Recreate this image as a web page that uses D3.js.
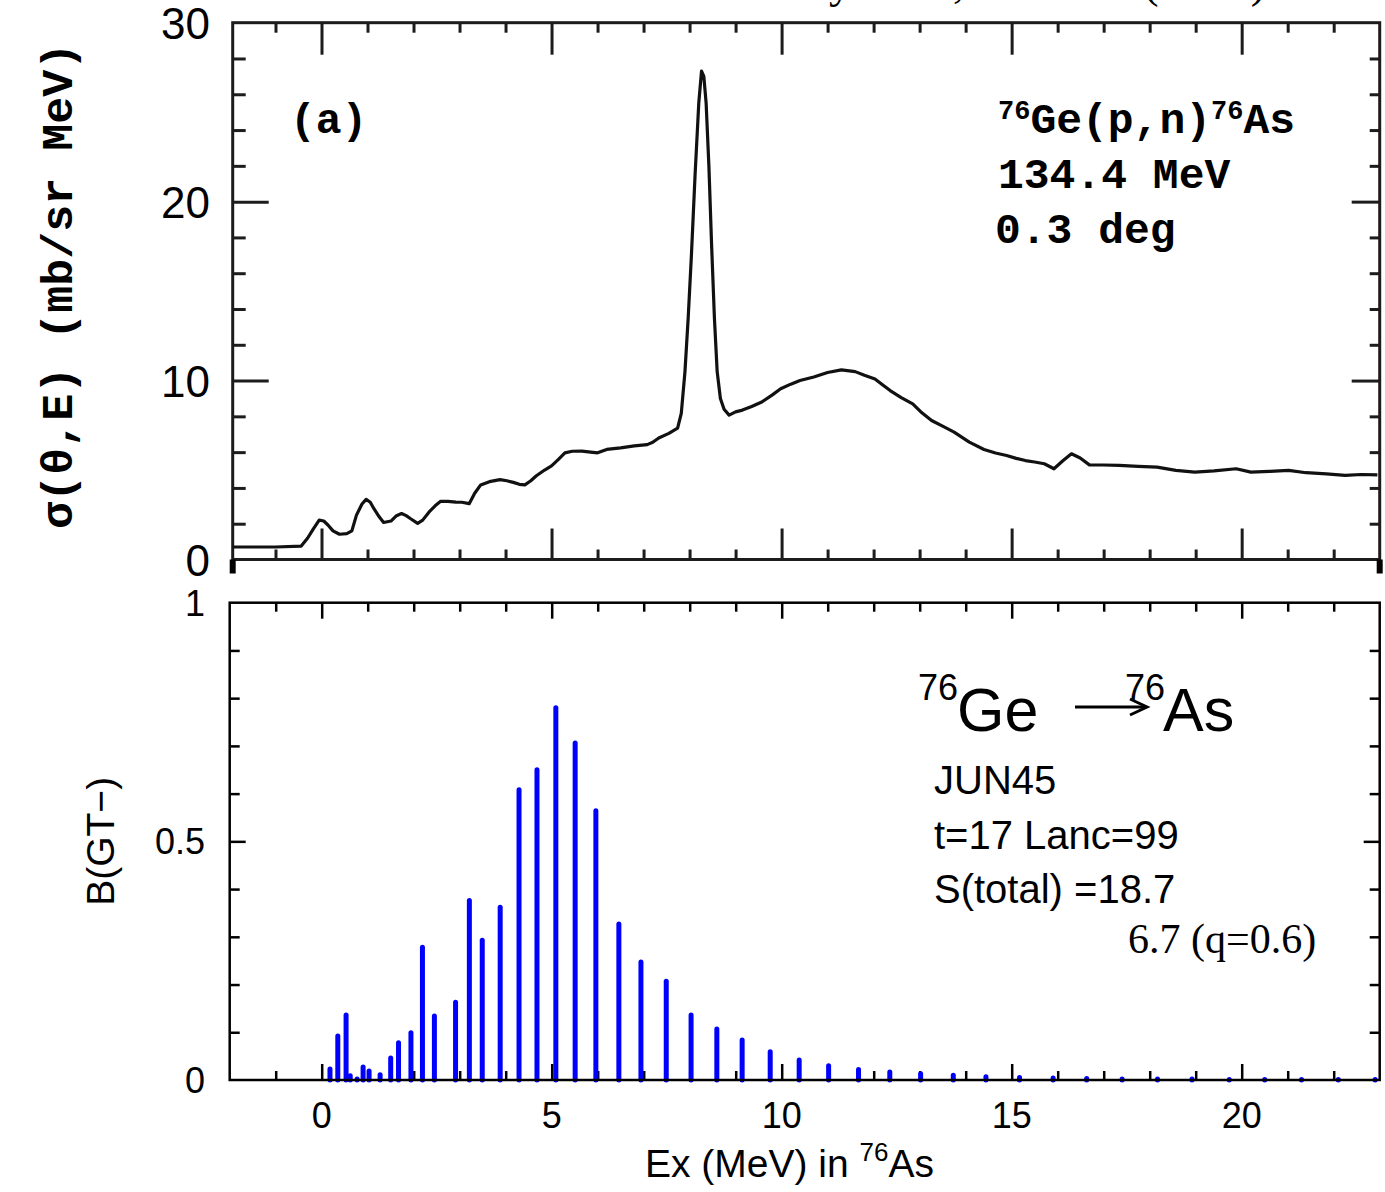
<!DOCTYPE html>
<html>
<head>
<meta charset="utf-8">
<script src="https://cdn.jsdelivr.net/npm/d3@7"></script>
<style>
  html, body { margin: 0; padding: 0; background: #fff; }
  svg { display: block; }
</style>
</head>
<body>
<script>
// ---- (a) measured 76Ge(p,n)76As spectrum: Ex (MeV) and cross section (mb/sr MeV)
const specE = [-1.93,-1.5,-1.0,-0.44,-0.3,-0.18,-0.05,0.05,0.14,0.25,0.39,0.55,0.66,0.76,0.88,0.97,1.06,1.14,1.25,1.35,
  1.51,1.63,1.74,1.84,1.93,2.09,2.2,2.34,2.47,2.59,2.75,2.92,3.05,3.21,3.33,3.46,3.65,3.88,4.03,4.17,
  4.3,4.42,4.55,4.67,4.85,5.0,5.15,5.29,5.45,5.66,5.85,6.0,6.2,6.5,6.8,7.08,7.2,7.33,7.55,7.74,
  7.82,7.9,7.97,8.04,8.12,8.2,8.26,8.31,8.36,8.42,8.48,8.54,8.6,8.67,8.75,8.86,9.0,9.15,9.35,9.57,
  9.8,9.98,10.2,10.4,10.7,11.0,11.3,11.6,11.8,12.03,12.2,12.36,12.6,12.85,13.05,13.26,13.5,13.75,14.08,14.4,
  14.65,14.89,15.1,15.3,15.5,15.71,15.92,16.12,16.3,16.49,16.69,17.0,17.34,17.75,18.16,18.57,18.98,19.4,19.88,20.2,
  20.6,21.02,21.4,21.84,22.25,22.6,22.95];
const specS = [0.7,0.7,0.7,0.75,1.2,1.7,2.2,2.15,1.93,1.6,1.41,1.45,1.6,2.48,3.1,3.36,3.2,2.84,2.4,2.07,
  2.15,2.45,2.57,2.45,2.29,2.02,2.2,2.66,3.0,3.25,3.25,3.21,3.2,3.12,3.7,4.17,4.35,4.46,4.4,4.31,
  4.2,4.17,4.4,4.68,5.0,5.23,5.6,5.96,6.05,6.06,6.0,5.96,6.15,6.24,6.35,6.42,6.55,6.79,7.05,7.34,
  8.17,10.5,13.5,17.0,21.5,25.5,27.3,27.0,25.5,22.0,17.5,13.5,10.5,9.0,8.4,8.07,8.25,8.35,8.55,8.8,
  9.2,9.54,9.8,10.0,10.2,10.45,10.6,10.5,10.3,10.09,9.75,9.44,9.05,8.7,8.2,7.77,7.45,7.12,6.56,6.15,
  5.95,5.81,5.65,5.53,5.45,5.35,5.07,5.53,5.91,5.67,5.29,5.28,5.26,5.2,5.16,4.98,4.88,4.95,5.07,4.88,
  4.92,4.98,4.85,4.79,4.7,4.75,4.73];

// ---- (b) shell-model B(GT-) strengths: Ex (MeV) and B(GT-)
const gtE = [0.18,0.35,0.53,0.62,0.77,0.90,1.03,1.27,1.50,1.67,1.94,2.19,2.45,2.91,3.21,3.49,3.88,4.29,4.68,5.09,
  5.51,5.96,6.46,6.94,7.49,8.03,8.59,9.14,9.75,10.38,11.02,11.67,12.35,13.02,13.73,14.44,15.17,15.90,16.63,17.40,
  18.17,18.92,19.73,20.50,21.30,22.10,22.90];
const gtB = [0.023,0.092,0.136,0.009,0.002,0.027,0.019,0.011,0.046,0.078,0.099,0.278,0.134,0.163,0.376,0.293,0.362,0.608,0.650,0.780,
  0.706,0.564,0.327,0.247,0.207,0.136,0.107,0.084,0.059,0.042,0.030,0.022,0.017,0.013,0.010,0.007,0.005,0.004,0.003,0.002,
  0.002,0.002,0.001,0.001,0.001,0.001,0.001];

// ---- tick labels
const topYTicks = [0, 10, 20, 30];
const botYTicks = [0, 0.5, 1];
const botYLabels = ["0", "0.5", "1"];
const botXTicks = [0, 5, 10, 15, 20];
const botXLabels = ["0", "5", "10", "15", "20"];

const W = 1385, H = 1192;
const svg = d3.select("body").append("svg")
  .attr("width", W).attr("height", H)
  .attr("viewBox", `0 0 ${W} ${H}`);

const SANS = "'Liberation Sans', Arial, Helvetica, sans-serif";
const MONO = "'Liberation Mono', 'Courier New', monospace";
const SERIF = "'Liberation Serif', 'Times New Roman', serif";

// ---- citation line, running off the top edge
svg.append("text")
  .attr("x", 1266).attr("y", -3)
  .attr("text-anchor", "end")
  .attr("font-family", SERIF).attr("font-size", 46)
  .text("R. Madey et al., PR C 40 (1989)");

// ================= panel (a) =================
const xT = d3.scaleLinear().domain([-1.93, 23]).range([232.7, 1379.7]);
const yT = d3.scaleLinear().domain([0, 30]).range([559.5, 22.7]);
const gT = svg.append("g");
const frameT = "#1c1c1c";

// inward ticks on all four sides
function ticksT(axisGen, transform, values, size) {
  gT.append("g").attr("transform", transform)
    .call(axisGen.tickValues(values).tickSize(size).tickFormat(""))
    .call(g => g.select(".domain").remove())
    .call(g => g.selectAll(".tick line").attr("stroke", frameT).attr("stroke-width", 3));
}
const xMinor = d3.range(-1, 23, 1).filter(v => v % 5 !== 0);
const xMajor = d3.range(0, 23, 5);
const yMinorT = d3.range(2, 30, 2).filter(v => v % 10 !== 0);
const yMajorT = [10, 20];
ticksT(d3.axisBottom(xT), `translate(0,${yT(0)})`, xMinor, -10);
ticksT(d3.axisBottom(xT), `translate(0,${yT(0)})`, xMajor, -31);
ticksT(d3.axisTop(xT), `translate(0,${yT(30)})`, xMinor, -10);
ticksT(d3.axisTop(xT), `translate(0,${yT(30)})`, xMajor, -32);
ticksT(d3.axisLeft(yT), `translate(${xT.range()[0]},0)`, yMinorT, -13);
ticksT(d3.axisLeft(yT), `translate(${xT.range()[0]},0)`, yMajorT, -36);
ticksT(d3.axisRight(yT), `translate(${xT.range()[1]},0)`, yMinorT, -10);
ticksT(d3.axisRight(yT), `translate(${xT.range()[1]},0)`, yMajorT, -28);

gT.append("rect")
  .attr("x", xT.range()[0]).attr("y", yT(30))
  .attr("width", xT.range()[1] - xT.range()[0]).attr("height", yT(0) - yT(30))
  .attr("fill", "none").attr("stroke", frameT).attr("stroke-width", 3);

// heavy end caps below the lower corners
gT.selectAll("line.cap").data(xT.range()).join("line")
  .attr("class", "cap")
  .attr("x1", d => d).attr("x2", d => d)
  .attr("y1", yT(0)).attr("y2", yT(0) + 14)
  .attr("stroke", "#000").attr("stroke-width", 6);

// y tick labels
gT.selectAll("text.ylab").data(topYTicks).join("text")
  .attr("class", "ylab")
  .attr("x", 210).attr("y", d => yT(d) + 16)
  .attr("text-anchor", "end")
  .attr("font-family", SANS).attr("font-size", 44)
  .text(d => d);

// spectrum
const spec = specE.map((e, i) => [e, specS[i]]);
gT.append("path")
  .datum(spec)
  .attr("fill", "none").attr("stroke", "#111").attr("stroke-width", 3.2)
  .attr("stroke-linejoin", "round")
  .attr("d", d3.line().x(d => xT(d[0])).y(d => yT(d[1])));

// y title
gT.append("text")
  .attr("transform", `translate(72,${yT(15.3)}) rotate(-90)`)
  .attr("text-anchor", "middle")
  .attr("font-family", MONO).attr("font-weight", "bold").attr("font-size", 45)
  .text("σ(θ,E) (mb/sr MeV)");

// annotations
const monoText = (x, y) => gT.append("text")
  .attr("x", x).attr("y", y)
  .attr("font-family", MONO).attr("font-weight", "bold").attr("font-size", 43);
monoText(290, 133).text("(a)");
const r = monoText(998, 133);
r.append("tspan").attr("font-size", 27).attr("dy", -14).text("76");
r.append("tspan").attr("dy", 14).text("Ge(p,n)");
r.append("tspan").attr("font-size", 27).attr("dy", -14).text("76");
r.append("tspan").attr("dy", 14).text("As");
monoText(998, 188).text("134.4 MeV");
monoText(995, 243).text("0.3 deg");

// ================= panel (b) =================
const xB = d3.scaleLinear().domain([-2, 23]).range([229.7, 1379.7]);
const yB = d3.scaleLinear().domain([0, 1]).range([1080, 602.7]);
const gB = svg.append("g");

function ticksB(axisGen, transform, values, size) {
  gB.append("g").attr("transform", transform)
    .call(axisGen.tickValues(values).tickSize(size).tickFormat(""))
    .call(g => g.select(".domain").remove())
    .call(g => g.selectAll(".tick line").attr("stroke", "#000").attr("stroke-width", 2.5));
}
const xMinorB = d3.range(-1, 23, 1).filter(v => v % 5 !== 0);
const xMajorB = d3.range(0, 23, 5);
const yMinorB = d3.range(1, 10).filter(v => v !== 5).map(v => v / 10);
ticksB(d3.axisBottom(xB), `translate(0,${yB(0)})`, xMinorB, -9);
ticksB(d3.axisBottom(xB), `translate(0,${yB(0)})`, xMajorB, -16);
ticksB(d3.axisTop(xB), `translate(0,${yB(1)})`, xMinorB, -9);
ticksB(d3.axisTop(xB), `translate(0,${yB(1)})`, xMajorB, -16);
ticksB(d3.axisLeft(yB), `translate(${xB.range()[0]},0)`, yMinorB, -10);
ticksB(d3.axisLeft(yB), `translate(${xB.range()[0]},0)`, [0.5], -16);
ticksB(d3.axisRight(yB), `translate(${xB.range()[1]},0)`, yMinorB, -10);
ticksB(d3.axisRight(yB), `translate(${xB.range()[1]},0)`, [0.5], -16);

// strength sticks
gB.selectAll("line.gt").data(gtE.map((e, i) => [e, gtB[i]])).join("line")
  .attr("class", "gt")
  .attr("x1", d => xB(d[0])).attr("x2", d => xB(d[0]))
  .attr("y1", yB(0)).attr("y2", d => yB(d[1]))
  .attr("stroke", "#0000ff").attr("stroke-width", 5).attr("stroke-linecap", "round");

gB.append("rect")
  .attr("x", xB.range()[0]).attr("y", yB(1))
  .attr("width", xB.range()[1] - xB.range()[0]).attr("height", yB(0) - yB(1))
  .attr("fill", "none").attr("stroke", "#000").attr("stroke-width", 2.5);

// tick labels
gB.selectAll("text.ylab").data(botYTicks).join("text")
  .attr("class", "ylab")
  .attr("x", 205).attr("y", d => yB(d) + 13)
  .attr("text-anchor", "end")
  .attr("font-family", SANS).attr("font-size", 36)
  .text((d, i) => botYLabels[i]);
gB.selectAll("text.xlab").data(botXTicks).join("text")
  .attr("class", "xlab")
  .attr("x", d => xB(d)).attr("y", 1128)
  .attr("text-anchor", "middle")
  .attr("font-family", SANS).attr("font-size", 36)
  .text((d, i) => botXLabels[i]);

// axis titles
const xt = gB.append("text")
  .attr("x", 645).attr("y", 1177)
  .attr("font-family", SANS).attr("font-size", 39);
xt.append("tspan").text("Ex (MeV) in ");
xt.append("tspan").attr("font-size", 26).attr("dy", -16).text("76");
xt.append("tspan").attr("dy", 16).text("As");

gB.append("text")
  .attr("transform", `translate(114,${yB(0.5)}) rotate(-90)`)
  .attr("text-anchor", "middle")
  .attr("font-family", SANS).attr("font-size", 39)
  .text("B(GT\u2212)");

// reaction label with arrow
const sansText = (x, y, size) => gB.append("text")
  .attr("x", x).attr("y", y)
  .attr("font-family", SANS).attr("font-size", size);
sansText(918, 700, 36).text("76");
sansText(957, 731, 61).text("Ge");
sansText(1125, 700, 36).text("76");
sansText(1163, 731, 61).text("As");
gB.append("line")
  .attr("x1", 1075).attr("x2", 1146).attr("y1", 707).attr("y2", 707)
  .attr("stroke", "#000").attr("stroke-width", 3);
gB.append("path")
  .attr("d", "M1130,699 L1147,707 L1130,715")
  .attr("fill", "none").attr("stroke", "#000").attr("stroke-width", 3);

sansText(934, 794, 40).text("JUN45");
sansText(934, 849, 40).text("t=17 Lanc=99");
sansText(934, 903, 40).text("S(total) =18.7");
gB.append("text")
  .attr("x", 1128).attr("y", 953)
  .attr("font-family", SERIF).attr("font-size", 42)
  .text("6.7 (q=0.6)");
</script>
</body>
</html>
